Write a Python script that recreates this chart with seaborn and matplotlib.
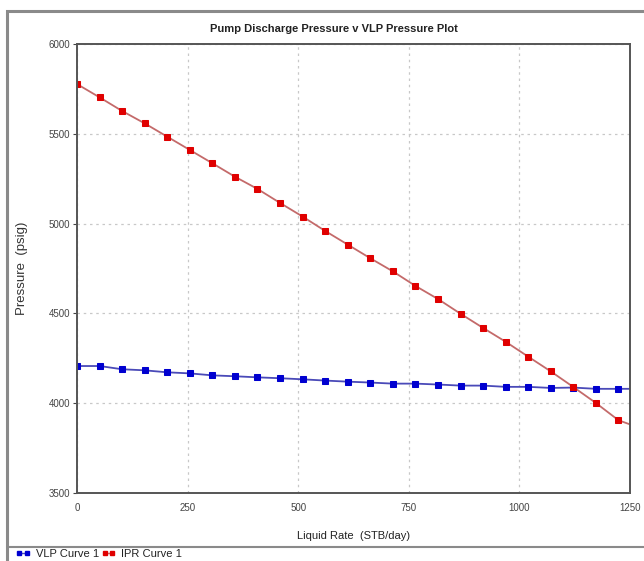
import matplotlib.pyplot as plt
import pandas as pd
import seaborn as sns
from matplotlib.lines import Line2D
from matplotlib.patches import Rectangle

# liquid rate (STB/day): 25 marked points, plus the curve end at the axis edge
rate = [0, 51, 102, 153, 204, 255, 306, 357, 408, 459, 510, 561, 612,
        663, 714, 765, 816, 867, 918, 969, 1020, 1071, 1122, 1173, 1224, 1250]

vlp_pressure = [4207, 4207, 4189, 4183, 4172, 4166, 4155, 4150, 4144, 4139, 4133, 4126, 4120,
                4115, 4109, 4109, 4104, 4098, 4098, 4091, 4091, 4085, 4087, 4080, 4080, 4080]

ipr_pressure = [5777, 5703, 5627, 5558, 5484, 5410, 5336, 5261, 5193, 5115, 5039, 4959, 4883,
                4807, 4734, 4653, 4580, 4498, 4419, 4342, 4259, 4177, 4090, 4001, 3905, 3882]

x_ticks = [0, 250, 500, 750, 1000, 1250]
y_ticks = [3500, 4000, 4500, 5000, 5500, 6000]

vlp = pd.DataFrame({'rate': rate, 'pressure': vlp_pressure})
ipr = pd.DataFrame({'rate': rate, 'pressure': ipr_pressure})

sns.set_style('white')
plt.rcParams['font.family'] = ['Liberation Sans', 'DejaVu Sans']

fig = plt.figure(figsize=(6.44, 5.61), dpi=100)
ax = fig.add_axes([77 / 644, 68 / 561, 553 / 644, 449 / 561])

marked = list(range(24 + 1))
sns.lineplot(data=vlp, x='rate', y='pressure', ax=ax, color='#4a4ab8', linewidth=1.3,
             marker='s', markersize=4.5, markerfacecolor='#0000d0', markeredgecolor='#0000d0',
             markevery=marked, sort=True, estimator=None)
sns.lineplot(data=ipr, x='rate', y='pressure', ax=ax, color='#c46a6a', linewidth=1.3,
             marker='s', markersize=4.5, markerfacecolor='#e00000', markeredgecolor='#e00000',
             markevery=marked, sort=True, estimator=None)

ax.set_xlim(0, 1250)
ax.set_ylim(3500, 6000)
ax.set_xticks(x_ticks)
ax.set_yticks(y_ticks)
ax.grid(True, linestyle=(0, (2, 3)), color='#c8c8c8', linewidth=0.9)
ax.tick_params(axis='both', labelsize=7, colors='#444444', length=3, width=0.8, direction='out',
               left=True, bottom=False, pad=2)
ax.tick_params(axis='x', pad=4)
for side in ax.spines.values():
    side.set_color('#555555')
    side.set_linewidth(1.4)

ax.set_xlabel('Liquid Rate  (STB/day)', fontsize=8, color='#222222', labelpad=13)
ax.set_ylabel('Pressure  (psig)', fontsize=9.5, color='#333333', labelpad=15)
ax.set_title('Pump Discharge Pressure v VLP Pressure Plot', fontsize=8, fontweight='bold',
             color='#222222', pad=9, x=(334 - 77) / 553)

# panel frame around the chart and the legend strip
fig.patches.append(Rectangle((7 / 644, -0.01), 640 / 644, (561 - 11) / 561 + 0.01,
                             transform=fig.transFigure, fill=False, edgecolor='#8a8a8a',
                             linewidth=2.2, zorder=0))
fig.lines.append(Line2D([7 / 644, 1.0], [(561 - 547) / 561] * 2, transform=fig.transFigure,
                        color='#8a8a8a', linewidth=1.5))

handles = [Line2D([0], [0], color='#4a4ab8', marker='s', markersize=3, linewidth=1,
                  markerfacecolor='#0000d0', markeredgecolor='#0000d0'),
           Line2D([0], [0], color='#c46a6a', marker='s', markersize=3, linewidth=1,
                  markerfacecolor='#e00000', markeredgecolor='#e00000')]
fig.legend(handles, ['VLP Curve 1', 'IPR Curve 1'], loc='lower left', ncol=2,
           bbox_to_anchor=(6 / 644, -8 / 561), frameon=False, fontsize=8, numpoints=2,
           handlelength=1.3, handletextpad=0.5, columnspacing=0.2, labelcolor='#222222')

fig.savefig('out.png', dpi=100)
